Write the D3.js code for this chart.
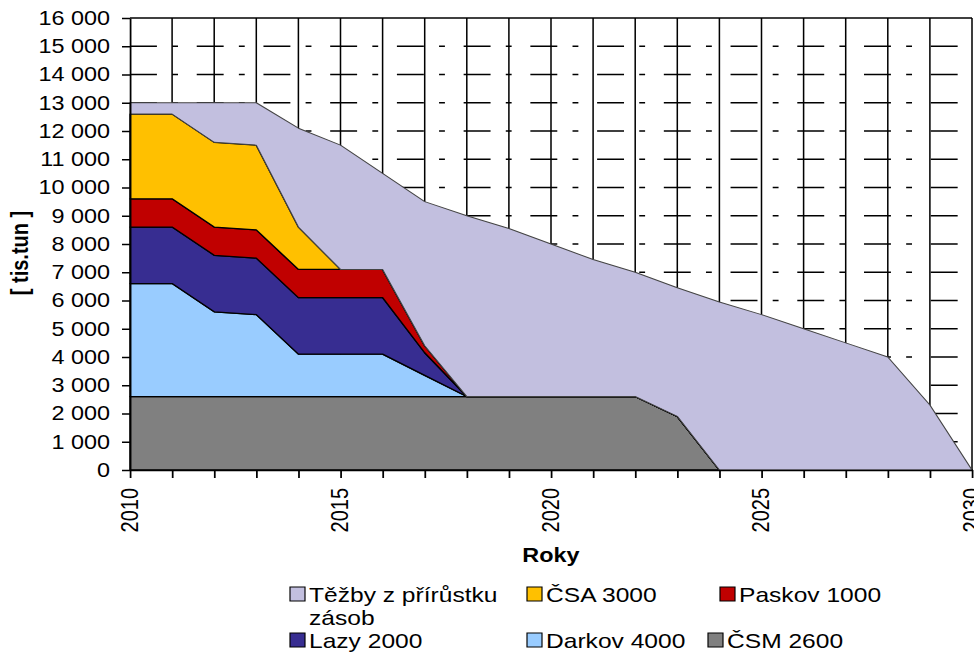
<!DOCTYPE html>
<html>
<head>
<meta charset="utf-8">
<script src="https://cdn.jsdelivr.net/npm/d3@7"></script>
<style>
  body { margin: 0; background: #fff; }
  svg { display: block; }
  text { font-family: "Liberation Sans", Arial, sans-serif; fill: #000; }
</style>
</head>
<body>
<div id="chart"></div>
<script>
const years  = [2010, 2011, 2012, 2013, 2014, 2015, 2016, 2017, 2018, 2019, 2020,
                2021, 2022, 2023, 2024, 2025, 2026, 2027, 2028, 2029, 2030];
const csm    = [2600, 2600, 2600, 2600, 2600, 2600, 2600, 2600, 2600, 2600, 2600,
                2600, 2600, 1900, 0, 0, 0, 0, 0, 0, 0];
const darkov = [4000, 4000, 3000, 2900, 1500, 1500, 1500, 750, 0, 0, 0,
                0, 0, 0, 0, 0, 0, 0, 0, 0, 0];
const lazy   = [2000, 2000, 2000, 2000, 2000, 2000, 2000, 800, 0, 0, 0,
                0, 0, 0, 0, 0, 0, 0, 0, 0, 0];
const paskov = [1000, 1000, 1000, 1000, 1000, 1000, 1000, 250, 0, 0, 0,
                0, 0, 0, 0, 0, 0, 0, 0, 0, 0];
const csa    = [3000, 3000, 3000, 3000, 1500, 0, 0, 0, 0, 0, 0,
                0, 0, 0, 0, 0, 0, 0, 0, 0, 0];
const tezby  = [400, 400, 1400, 1500, 3500, 4400, 3400, 5100, 6400, 5950, 5400,
                4850, 4400, 4550, 5950, 5500, 5000, 4500, 4000, 2300, 0];

const seriesNames = ["ČSM 2600", "Darkov 4000", "Lazy 2000", "Paskov 1000", "ČSA 3000", "Těžby z přírůstku zásob"];
const seriesValues = [csm, darkov, lazy, paskov, csa, tezby];
const colors = ["#808080", "#99ccff", "#372d91", "#c00000", "#ffc000", "#c2bfdf"];

// the original picture is stretched horizontally, so draw in a narrower viewBox
const k = 974 / 832;
const X = px => px / k;

const svg = d3.select("#chart").append("svg")
    .attr("width", 974)
    .attr("height", 652)
    .attr("viewBox", "0 0 832 652")
    .attr("preserveAspectRatio", "none");

const x = d3.scaleLinear().domain([2010, 2030]).range([X(130), X(972)]);
const y = d3.scaleLinear().domain([0, 16000]).range([470, 18]);

const rows = years.map((yr, i) => {
    const r = {year: yr};
    seriesNames.forEach((n, j) => r[n] = seriesValues[j][i]);
    return r;
});
const stacked = d3.stack().keys(seriesNames)(rows);

// gridlines
const yTicks = y.ticks(16);
svg.append("g")
    .selectAll("line")
    .data(yTicks.filter(v => v > 0 && v < 16000))
    .join("line")
    .attr("x1", x(2010)).attr("x2", x(2030))
    .attr("y1", d => y(d)).attr("y2", d => y(d))
    .attr("stroke", "#000")
    .attr("stroke-width", 1.5)
    .attr("stroke-dasharray", "23,13,5,16");

svg.append("g")
    .selectAll("line")
    .data(years.slice(1))
    .join("line")
    .attr("x1", d => x(d)).attr("x2", d => x(d))
    .attr("y1", y(0)).attr("y2", y(16000))
    .attr("stroke", "#000")
    .attr("stroke-width", 1.3);

svg.append("line")
    .attr("x1", x(2010)).attr("x2", x(2030))
    .attr("y1", y(16000)).attr("y2", y(16000))
    .attr("stroke", "#000")
    .attr("stroke-width", 1.5);

// areas
const area = d3.area()
    .x(d => x(d.data.year))
    .y0(d => y(d[0]))
    .y1(d => y(d[1]));

svg.append("g")
    .selectAll("path")
    .data(stacked)
    .join("path")
    .attr("d", area)
    .attr("fill", (d, i) => colors[i])
    .attr("stroke", (d, i) => i === 5 ? "#444" : "#000")
    .attr("stroke-width", (d, i) => i === 5 ? 1 : 1.3)
    .attr("stroke-linejoin", "round");

// axes
const fmt = d3.formatLocale({decimal: ",", thousands: " ", grouping: [3], currency: ["", ""]}).format(",d");

const yAxis = svg.append("g")
    .attr("transform", `translate(${x(2010)},0)`)
    .call(d3.axisLeft(y).tickValues(yTicks).tickFormat(fmt)
        .tickSize(X(8)).tickSizeOuter(0).tickPadding(X(12)));
yAxis.selectAll("text").attr("font-size", 20).attr("font-family", null).attr("fill", "#000");
yAxis.selectAll("line,path").attr("stroke", "#000").attr("stroke-width", 1.5);

const xAxis = svg.append("g")
    .attr("transform", `translate(0,${y(0)})`)
    .call(d3.axisBottom(x).tickValues(years).tickSize(8).tickSizeOuter(0)
        .tickFormat(d => d % 5 === 0 ? d : ""));
xAxis.selectAll("line,path").attr("stroke", "#000").attr("stroke-width", 1.5);
xAxis.selectAll("text")
    .attr("font-size", 20)
    .attr("font-family", null)
    .attr("fill", "#000")
    .attr("transform", "rotate(-90)")
    .attr("text-anchor", "end")
    .attr("x", -18)
    .attr("y", 0)
    .attr("dy", "0.3em");

svg.append("text")
    .attr("x", X(551)).attr("y", 562)
    .attr("text-anchor", "middle")
    .attr("font-size", 20).attr("font-weight", "bold")
    .text("Roky");

svg.append("text")
    .attr("transform", `translate(${X(28)},253) rotate(-90)`)
    .attr("text-anchor", "middle")
    .attr("font-size", 20).attr("font-weight", "bold")
    .text("[ tis.tun ]");

// legend
const legendItems = [
    {i: 5, x: 290, y: 587, lines: ["Těžby z přírůstku", "zásob"]},
    {i: 4, x: 527, y: 587, lines: ["ČSA 3000"]},
    {i: 3, x: 720, y: 587, lines: ["Paskov 1000"]},
    {i: 2, x: 290, y: 633, lines: ["Lazy 2000"]},
    {i: 1, x: 527, y: 633, lines: ["Darkov 4000"]},
    {i: 0, x: 708, y: 633, lines: ["ČSM 2600"]}
];

const leg = svg.append("g")
    .selectAll("g")
    .data(legendItems)
    .join("g")
    .attr("transform", d => `translate(${X(d.x)},${d.y})`);

leg.append("rect")
    .attr("width", X(15)).attr("height", 14)
    .attr("fill", d => colors[d.i])
    .attr("stroke", "#000").attr("stroke-width", 1);

leg.append("text")
    .attr("x", X(19)).attr("y", 15)
    .attr("font-size", 21)
    .selectAll("tspan")
    .data(d => d.lines)
    .join("tspan")
    .attr("x", X(19))
    .attr("dy", (d, j) => j === 0 ? 0 : 23)
    .text(d => d);
</script>
</body>
</html>
